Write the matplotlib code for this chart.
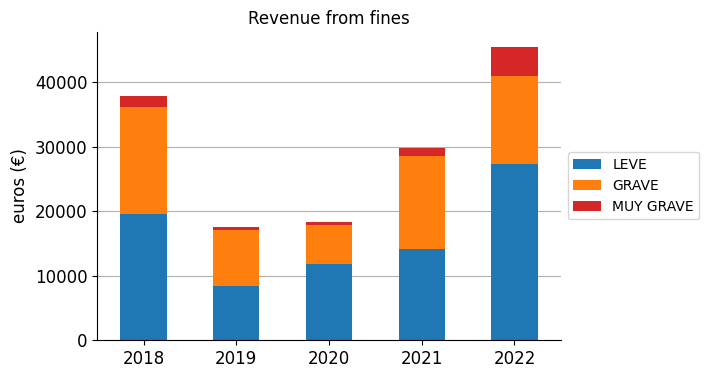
import numpy as np
import matplotlib.pyplot as plt

# revenue per year, split by severity of the fine
YEARS = ["2018", "2019", "2020", "2021", "2022"]
LEVE = [19600, 8430, 11850, 14180, 27370]
GRAVE = [16560, 8690, 6050, 14440, 13660]
MUY_GRAVE = [1710, 420, 470, 1240, 4500]

SERIES = [("LEVE", LEVE, "tab:blue"),
          ("GRAVE", GRAVE, "tab:orange"),
          ("MUY GRAVE", MUY_GRAVE, "tab:red")]

fig = plt.figure(figsize=(7.09, 3.78), dpi=100)
ax = fig.add_axes([0.137, 0.1005, 0.654, 0.815])

x = np.arange(len(YEARS))
bottom = np.zeros(len(YEARS))
for label, vals, color in SERIES:
    ax.bar(x, vals, width=0.5, bottom=bottom, color=color, label=label)
    bottom += np.array(vals)

ax.set_xticks(x)
ax.set_xticklabels(YEARS, fontsize=12)
ax.tick_params(axis="y", labelsize=12)
ax.set_xlim(-0.5, 4.5)
ax.set_ylim(0, bottom.max() * 1.05)
ax.set_ylabel("euros (€)", fontsize=12)
ax.set_title("Revenue from fines", fontsize=12)

ax.yaxis.grid(True, color="#b0b0b0")
ax.set_axisbelow(True)
ax.spines["top"].set_visible(False)
ax.spines["right"].set_visible(False)

ax.legend(loc="center left", bbox_to_anchor=(1.0, 0.5), fontsize=10)

fig.savefig("out.png")
